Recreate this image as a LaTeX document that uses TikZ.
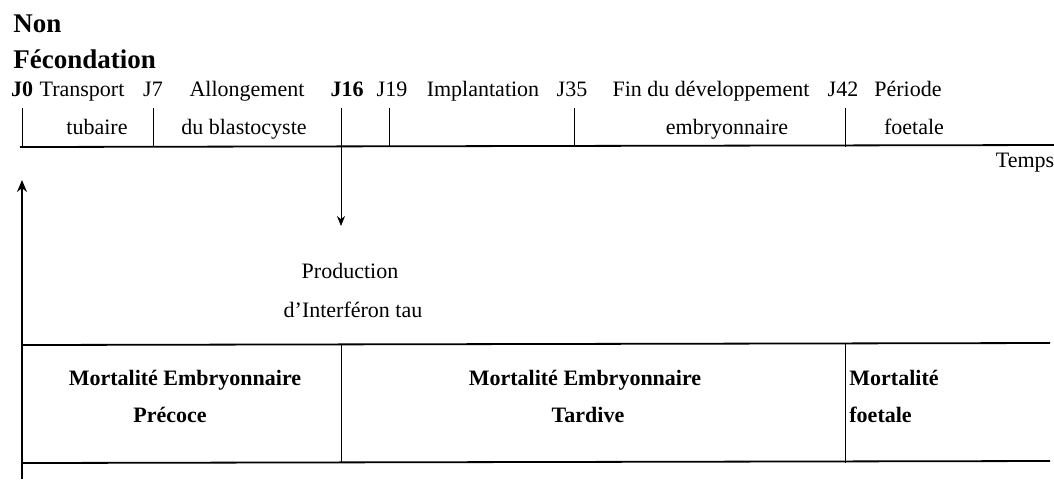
\documentclass[tikz,border=0pt]{standalone}
\usepackage{fontspec}
\setmainfont{Liberation Serif}
\usetikzlibrary{arrows.meta}
\begin{document}
\begin{tikzpicture}[x=0.5pt,y=-0.5pt,
    lab/.style={inner sep=0pt,text height=7.6pt,text depth=2.4pt,font=\fontsize{11}{13}\selectfont},
    blab/.style={lab,font=\fontsize{11}{13}\selectfont\bfseries},
    big/.style={inner sep=0pt,anchor=west,font=\fontsize{13.5}{16}\selectfont\bfseries},
    tick/.style={line width=0.45pt},
    axis/.style={line width=0.9pt}]
        \useasboundingbox (0,0) rectangle (1054,479);
        % title
        \node[big] (non) at (13,24) {Non};
        \node[big] (fec) at (13,59) {Fécondation};
        % days
        \node[blab] (j0) at (22,91) {J0};
        \node[lab] (transp) at (82,91) {Transport};
        \node[lab] (j7) at (153,91) {J7};
        \node[lab] (allong) at (247,91) {Allongement};
        \node[blab] (j16) at (347,91) {J16};
        \node[lab] (j19) at (392,91) {J19};
        \node[lab] (impl) at (483,91) {Implantation};
        \node[lab] (j35) at (572,91) {J35};
        \node[lab] (fin) at (711,91) {Fin du développement};
        \node[lab] (j42) at (843,91) {J42};
        \node[lab] (per) at (908,91) {Période};
        \node[lab] (tub) at (97,129) {tubaire};
        \node[lab] (blast) at (244,129) {du blastocyste};
        \node[lab] (embr) at (727,129) {embryonnaire};
        \node[lab] (foet) at (914,129) {foetale};
        \node[lab] (temps) at (1025,162) {Temps};
        % time axis
        \coordinate (a0) at (20,147);
        \coordinate (a1) at (1054,145);
        \draw[axis] (a0) -- (a1);
        \foreach \n/\x in {0/22,7/153,19/389,35/574,42/845}{
          \coordinate (t\n) at (\x,108);
          \draw[tick] (t\n) -- (t\n |- a0);
        }
        % interferon
        \coordinate (t16) at (341,108);
        \coordinate (ifn) at (341,226);
        \draw[tick,-{Stealth[length=5pt,width=4pt]}] (t16) -- (ifn);
        \node[lab] (prod) at (350,273) {Production};
        \node[lab] (tau) at (353,312) {d’Interféron tau};
        % vertical axis
        \coordinate (v0) at (22,479);
        \coordinate (v1) at (22,180);
        \draw[axis,-{Stealth[length=6pt,width=5pt]}] (v0) -- (v1);
        % mortality
        \coordinate (m0) at (22,345);
        \coordinate (m1) at (1050,343);
        \coordinate (b0) at (22,463);
        \coordinate (b1) at (1050,461);
        \draw[axis] (m0) -- (m1);
        \draw[axis] (b0) -- (b1);
        \coordinate (d1) at (341,345);
        \coordinate (d2) at (845,344);
        \draw[tick] (d1) -- (d1 |- b0);
        \draw[tick] (d2) -- (d2 |- b0);
        \node[blab] (me1) at (185,380) {Mortalité Embryonnaire};
        \node[blab] (prec) at (170,417) {Précoce};
        \node[blab] (me2) at (585,380) {Mortalité Embryonnaire};
        \node[blab] (tard) at (588,417) {Tardive};
        \node[blab,anchor=west] (mf) at (849,380) {Mortalité};
        \node[blab,anchor=west] (ft) at (849,417) {foetale};
      \end{tikzpicture}
\end{document}
